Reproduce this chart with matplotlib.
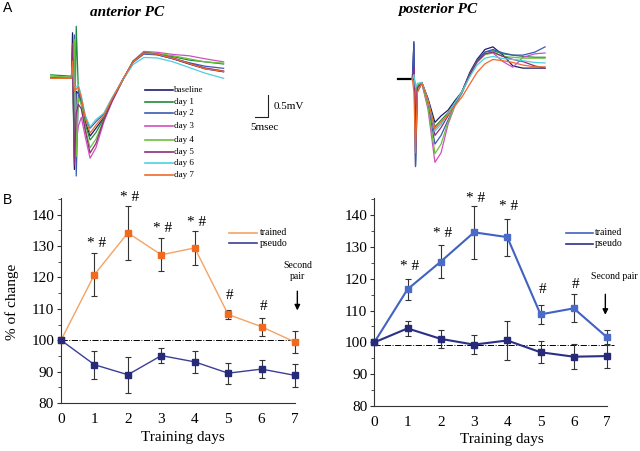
import matplotlib
matplotlib.use('Agg')
import matplotlib.pyplot as plt
from matplotlib.lines import Line2D
from matplotlib.ticker import MultipleLocator

plt.rcParams['font.family'] = ['Liberation Serif', 'DejaVu Serif']

# ---------------- data ----------------
DAYS = [0, 1, 2, 3, 4, 5, 6, 7]
DAY_LABELS = ['0', '1', '2', '3', '4', '5', '6', '7']

ANT_TRAINED = [100, 120.9, 134.2, 127.2, 129.4, 108.2, 104.3, 99.4]
ANT_TRAINED_ERR = [0, 6.9, 8.5, 5.3, 5.3, 1.5, 2.8, 3.6]
ANT_PSEUDO = [100, 92.2, 89.0, 95.1, 93.1, 89.5, 90.8, 88.8]
ANT_PSEUDO_ERR = [0, 4.5, 5.8, 2.4, 3.5, 3.3, 2.9, 3.6]

POST_TRAINED = [100, 116.7, 125.4, 134.6, 133.1, 108.8, 110.7, 101.6]
POST_TRAINED_ERR = [0, 3.3, 5.2, 8.4, 5.8, 3.0, 4.4, 2.4]
POST_PSEUDO = [100, 104.4, 101.1, 99.3, 100.6, 96.9, 95.5, 95.7]
POST_PSEUDO_ERR = [0, 2.4, 2.8, 2.9, 6.0, 3.5, 4.0, 3.9]

ANT_MARKS = ['* #', '* #', '* #', '* #', '#', '#']
ANT_MARK_Y = [130.8, 145.6, 135.6, 137.5, 114.4, 110.7]
POST_MARKS = ['* #', '* #', '* #', '* #', '#', '#']
POST_MARK_Y = [123.8, 134.3, 145.1, 142.7, 116.7, 118.3]

TRACE_LABELS = ['baseline', 'day 1', 'day 2', 'day 3', 'day 4', 'day 5', 'day 6', 'day 7']
TRACE_COLORS = ['#1c1c6e', '#1f8a3c', '#3b5bb5', '#d04fc0', '#6fbf3f', '#8b2f78', '#4fcfe0', '#f06a2a']

# anterior traces (time in ms, voltage in mV)
T_ANT = [0, 7.8, 8.2, 8.9, 9.6, 10.4, 11.5, 13, 14.8, 17, 20, 23, 27, 31, 35, 40, 46, 52, 58, 65]
ANT_BASELINE = [0.02, 0.0, 1.05, -2.1, -0.3, -0.35, -0.55, -1.0, -1.33, -1.15, -0.9, -0.5, -0.05, 0.38, 0.57, 0.55, 0.45, 0.33, 0.22, 0.15]
ANT_DAY1 = [0.08, 0.05, 0.05, -1.8, 1.2, -0.3, -0.6, -1.05, -1.42, -1.25, -0.92, -0.52, -0.05, 0.4, 0.6, 0.57, 0.5, 0.42, 0.38, 0.33]
ANT_DAY2 = [0.0, 0.0, 0.0, 1.0, -2.25, -0.3, -0.5, -0.9, -1.15, -1.0, -0.82, -0.48, -0.03, 0.37, 0.56, 0.54, 0.45, 0.36, 0.28, 0.23]
ANT_DAY3 = [0.0, 0.0, 0.6, -1.9, -1.5, -1.1, -0.9, -1.35, -1.84, -1.6, -1.0, -0.55, -0.05, 0.4, 0.62, 0.6, 0.55, 0.52, 0.45, 0.38]
ANT_DAY4 = [0.05, 0.03, 0.2, 0.9, -1.8, -0.45, -0.6, -1.15, -1.6, -1.4, -0.95, -0.52, -0.05, 0.4, 0.6, 0.57, 0.52, 0.45, 0.38, 0.35]
ANT_DAY5 = [0.0, 0.0, 0.8, -2.0, -0.8, -0.6, -0.7, -1.2, -1.72, -1.5, -0.95, -0.53, -0.05, 0.39, 0.59, 0.56, 0.47, 0.35, 0.24, 0.17]
ANT_DAY6 = [0.0, 0.0, 0.3, -0.2, -0.2, -0.15, -0.4, -0.85, -1.12, -0.95, -0.8, -0.45, -0.05, 0.32, 0.48, 0.47, 0.38, 0.25, 0.12, 0.0]
ANT_DAY7 = [0.0, 0.0, 0.4, -0.3, -0.25, -0.2, -0.45, -0.9, -1.26, -1.08, -0.85, -0.48, -0.04, 0.38, 0.58, 0.56, 0.46, 0.34, 0.22, 0.16]

# posterior traces
T_POST = [5.4, 6.0, 6.6, 7.3, 9.0, 11.3, 13.9, 16.2, 18.8, 21.4, 24, 27, 29.7, 32.7, 35.7, 39.5, 43.2, 47, 51.5, 55.3]
POST_BAR_T = [0, 5.6]
POST_BAR_V = [0, 0]
POST_BASELINE = [0, 0.86, -2.0, -0.2, -0.08, -0.45, -1.0, -0.85, -0.72, -0.5, -0.3, 0.15, 0.45, 0.68, 0.74, 0.55, 0.3, 0.25, 0.25, 0.25]
POST_DAY1 = [0, 0.1, -0.3, -0.15, -0.08, -0.5, -1.1, -0.95, -0.78, -0.55, -0.3, 0.12, 0.42, 0.62, 0.65, 0.58, 0.55, 0.52, 0.5, 0.5]
POST_DAY2 = [0, 0.8, -2.02, -0.3, -0.1, -0.6, -1.5, -1.3, -0.95, -0.6, -0.32, 0.12, 0.42, 0.62, 0.68, 0.6, 0.55, 0.55, 0.62, 0.74]
POST_DAY3 = [0, 0.2, -0.6, -0.2, -0.1, -0.7, -1.92, -1.7, -1.05, -0.62, -0.33, 0.08, 0.38, 0.58, 0.6, 0.4, 0.27, 0.5, 0.58, 0.6]
POST_DAY4 = [0, 0.1, -0.3, -0.15, -0.1, -0.65, -1.72, -1.5, -1.0, -0.6, -0.32, 0.08, 0.38, 0.56, 0.6, 0.52, 0.5, 0.48, 0.48, 0.48]
POST_DAY5 = [0, 0.3, -1.0, -0.2, -0.09, -0.5, -1.3, -1.12, -0.85, -0.57, -0.3, 0.1, 0.4, 0.58, 0.62, 0.52, 0.45, 0.4, 0.3, 0.25]
POST_DAY6 = [0, 0.1, -0.2, -0.1, -0.08, -0.5, -1.2, -1.05, -0.8, -0.55, -0.3, 0.05, 0.32, 0.48, 0.52, 0.47, 0.45, 0.42, 0.38, 0.37]
POST_DAY7 = [0, -0.3, -1.7, -0.3, -0.1, -0.5, -1.15, -1.0, -0.82, -0.62, -0.42, -0.12, 0.15, 0.35, 0.45, 0.42, 0.38, 0.32, 0.28, 0.28]

ANT_TRACES = [ANT_BASELINE, ANT_DAY1, ANT_DAY2, ANT_DAY3, ANT_DAY4, ANT_DAY5, ANT_DAY6, ANT_DAY7]
POST_TRACES = [POST_BASELINE, POST_DAY1, POST_DAY2, POST_DAY3, POST_DAY4, POST_DAY5, POST_DAY6, POST_DAY7]

# ---------------- figure ----------------
W, H = 640, 451
fig = plt.figure(figsize=(6.4, 4.51), dpi=100)


def fx(x):
    return x / W


def fy(y):
    return 1 - y / H


def axes_px(l, t, r, b):
    return fig.add_axes([l / W, 1 - b / H, (r - l) / W, (b - t) / H])


def fig_line(xs, ys, **kw):
    fig.add_artist(Line2D([fx(x) for x in xs], [fy(y) for y in ys],
                          transform=fig.transFigure, **kw))


# panel labels
fig.text(fx(3), fy(8), 'A', family='Liberation Sans', fontsize=10, va='center', ha='left')
fig.text(fx(3), fy(200), 'B', family='Liberation Sans', fontsize=10, va='center', ha='left')

# titles
fig.text(fx(127), fy(12), 'anterior PC', fontsize=11, style='italic', weight='bold', ha='center', va='center')
fig.text(fx(438), fy(9), 'posterior PC', fontsize=11, style='italic', weight='bold', ha='center', va='center')

# trace axes
ax_a = axes_px(45.4, 21.9, 228.9, 182.5)
ax_a.set_xlim(-2, 67)
ax_a.set_ylim(-2.4, 1.3)
ax_a.axis('off')
for vals, col in zip(ANT_TRACES, TRACE_COLORS):
    ax_a.plot(T_ANT, vals, color=col, lw=0.9)

ax_p = axes_px(395.3, 26.9, 549.6, 178.8)
ax_p.set_xlim(-1, 57)
ax_p.set_ylim(-2.3, 1.2)
ax_p.axis('off')
ax_p.plot(POST_BAR_T, POST_BAR_V, color='black', lw=1.6)
for vals, col in zip(POST_TRACES, TRACE_COLORS):
    ax_p.plot(T_POST, vals, color=col, lw=0.9)

# trace legend
rows = [90, 101.7, 113.3, 126, 140, 151.7, 163.3, 175]
for lab, col, y in zip(TRACE_LABELS, TRACE_COLORS, rows):
    fig_line([145, 173], [y, y], color=col, lw=1.2)
    fig.text(fx(174), fy(y), lab, fontsize=6.5, ha='left', va='center')

# scale bar
fig_line([255, 268, 268], [117, 117, 95], color='#222222', lw=0.8)
fig.text(fx(274), fy(106), '0.5mV', fontsize=8, ha='left', va='center')
fig.text(fx(250), fy(128), '5msec', fontsize=8, ha='left', va='center')


def style_axes(ax):
    ax.set_xlim(0, 7)
    ax.set_ylim(80, 145.3)
    for s in ['top', 'right']:
        ax.spines[s].set_visible(False)
    for s in ['left', 'bottom']:
        ax.spines[s].set_color('#333333')
        ax.spines[s].set_linewidth(0.8)
    ax.set_yticks([80, 90, 100, 110, 120, 130, 140])
    ax.yaxis.set_minor_locator(MultipleLocator(5))
    ax.set_xticks(DAYS)
    ax.set_xticklabels(DAY_LABELS)
    ax.tick_params(axis='y', which='major', direction='out', length=3, width=0.8,
                   labelsize=11, pad=2, color='#333333')
    ax.tick_params(axis='y', which='minor', direction='out', length=2, width=0.6, color='#333333')
    ax.tick_params(axis='x', length=0, labelsize=11, pad=7)


def series(ax, vals, err, line_col, mark_col, lw):
    cont = ax.errorbar(DAYS, vals, yerr=err, fmt='-', color=line_col, lw=lw,
                       ecolor='#333333', elinewidth=0.8, capsize=2, capthick=0.8, zorder=3)
    for a in cont.lines[1] + cont.lines[2]:
        a.set_clip_on(False)
    cont.lines[0].set_clip_on(False)
    ax.plot(DAYS, vals, 's', color=mark_col, markersize=5, zorder=4, clip_on=False)


# left panel B
ax_l = axes_px(61, 198, 295, 403)
style_axes(ax_l)
ax_l.plot([0, 7], [100, 100], color='black', lw=0.7, ls='-.', zorder=2)
series(ax_l, ANT_TRAINED, ANT_TRAINED_ERR, '#f5a263', '#f06a20', 1.0)
series(ax_l, ANT_PSEUDO, ANT_PSEUDO_ERR, '#3a3f94', '#262a78', 1.0)
for d, m, y in zip(DAYS[1:7], ANT_MARKS, ANT_MARK_Y):
    ax_l.text(d + 0.05, y, m, fontsize=11, ha='center', va='center', clip_on=False)
ax_l.text(7.07, 122, 'Second\npair', fontsize=7, ha='center', va='center', linespacing=1.3)
ax_l.annotate('', xy=(7.07, 108.6), xytext=(7.07, 116.5),
              arrowprops=dict(arrowstyle='-|>', color='black', lw=1, mutation_scale=8), annotation_clip=False)
ax_l.plot([0.718, 0.838], [0.831, 0.831], color='#f5a263', lw=1.2, transform=ax_l.transAxes, clip_on=False)
ax_l.text(0.85, 0.831, 'trained', fontsize=7, ha='left', va='center', transform=ax_l.transAxes)
ax_l.plot([0.718, 0.838], [0.78, 0.78], color='#3a3f94', lw=1.2, transform=ax_l.transAxes, clip_on=False)
ax_l.text(0.85, 0.78, 'pseudo', fontsize=7, ha='left', va='center', transform=ax_l.transAxes)
fig.text(fx(11.7), fy(301.7), '% of change', fontsize=11, rotation=90, ha='center', va='center')
fig.text(fx(183), fy(437), 'Training days', fontsize=11, ha='center', va='center')

# right panel B
ax_r = axes_px(374.3, 198.3, 607, 406)
style_axes(ax_r)
ax_r.plot([0, 7.2], [99.3, 99.3], color='black', lw=0.7, ls='-.', zorder=2, clip_on=False)
series(ax_r, POST_TRAINED, POST_TRAINED_ERR, '#4062c0', '#4a6cc8', 1.5)
series(ax_r, POST_PSEUDO, POST_PSEUDO_ERR, '#2c2f85', '#262a78', 1.5)
for d, m, y in zip(DAYS[1:7], POST_MARKS, POST_MARK_Y):
    ax_r.text(d + 0.05, y, m, fontsize=11, ha='center', va='center', clip_on=False)
ax_r.text(7.22, 120.7, 'Second pair', fontsize=7, ha='center', va='center')
ax_r.annotate('', xy=(6.95, 107.8), xytext=(6.95, 116.0),
              arrowprops=dict(arrowstyle='-|>', color='black', lw=1, mutation_scale=8), annotation_clip=False)
ax_r.plot([0.823, 0.939], [0.834, 0.834], color='#4062c0', lw=1.2, transform=ax_r.transAxes, clip_on=False)
ax_r.text(0.948, 0.834, 'trained', fontsize=7, ha='left', va='center', transform=ax_r.transAxes)
ax_r.plot([0.823, 0.939], [0.78, 0.78], color='#2c2f85', lw=1.2, transform=ax_r.transAxes, clip_on=False)
ax_r.text(0.948, 0.78, 'pseudo', fontsize=7, ha='left', va='center', transform=ax_r.transAxes)
fig.text(fx(501.7), fy(440), 'Training days', fontsize=11, ha='center', va='center')

fig.savefig('out.png', dpi=100)
